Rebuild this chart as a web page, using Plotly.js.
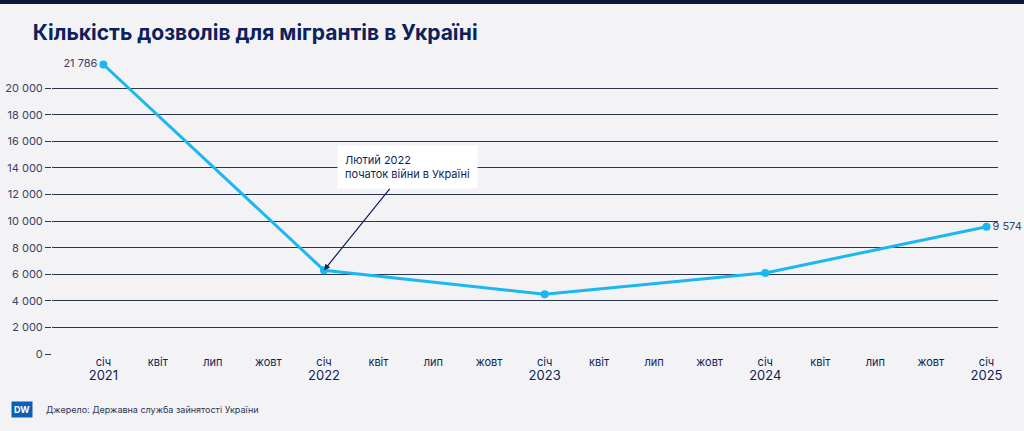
<!DOCTYPE html>
<html>
<head>
<meta charset="utf-8">
<script src="https://cdn.plot.ly/plotly-3.0.1.min.js"></script>
<style>
  body { margin: 0; background: #f3f2f4; }
  #topbar { height: 4px; background: #0b1538; }
  #chart { width: 1024px; height: 427px; }
</style>
</head>
<body>
<div id="topbar"></div>
<div id="chart"></div>
<script>
const dates = ["2021-01-01", "2022-01-01", "2023-01-01", "2024-01-01", "2025-01-01"];
const permits = [21786, 6300, 4500, 6100, 9574];
const pointLabels = ["21 786", "", "", "", "9 574"];

const months = ["січ", "квіт", "лип", "жовт"];
const monthNums = ["01", "04", "07", "10"];
let tickVals = [];
let tickText = [];
for (let y = 2021; y <= 2025; y++) {
    for (let m = 0; m < 4; m++) {
        if (y === 2025 && m > 0) break;
        tickVals.push(y + "-" + monthNums[m] + "-01");
        let label = months[m];
        if (m === 0) label += "<br><span style='font-size:13px'>" + y + "</span>";
        tickText.push(label);
    }
}

const navy = '#0d1f5c';

let trace = {
    x: dates,
    y: permits,
    text: pointLabels,
    mode: "lines+markers+text",
    textposition: ["middle left", "middle left", "middle left", "middle left", "middle right"],
    textfont: { size: 11, color: '#3a4466' },
    cliponaxis: false,
    line: { color: '#1ab8f0', width: 3 },
    marker: { color: '#1ab8f0', size: 8 },
    hoverinfo: "x+y",
    type: "scatter"
};

let layout = {
    width: 1024,
    height: 427,
    paper_bgcolor: '#f3f2f4',
    plot_bgcolor: '#f3f2f4',
    font: { family: 'Inter, "Noto Sans", sans-serif', color: navy },
    margin: { l: 52, r: 26, t: 49, b: 77 },
    showlegend: false,
    title: {
        text: '<b>Кількість дозволів для мігрантів в Україні</b>',
        x: 0.032, xanchor: 'left', y: 0.95,
        font: { size: 21, color: navy }
    },
    xaxis: {
        type: 'date',
        range: ['2020-10-08', '2025-01-20'],
        tickvals: tickVals,
        ticktext: tickText,
        tickfont: { size: 11, color: navy },
        showgrid: false,
        zeroline: false,
        ticks: ''
    },
    yaxis: {
        range: [0, 22650],
        tickvals: [0, 2000, 4000, 6000, 8000, 10000, 12000, 14000, 16000, 18000, 20000],
        ticktext: ["0", "2 000", "4 000", "6 000", "8 000", "10 000", "12 000", "14 000", "16 000", "18 000", "20 000"],
        tickfont: { size: 11, color: '#3a4466' },
        gridcolor: '#2c3550',
        gridwidth: 1,
        zeroline: false,
        ticks: 'outside',
        ticklen: 6,
        tickcolor: '#2c3550'
    },
    annotations: [{
        x: '2022-01-01', y: 6300, xref: 'x', yref: 'y',
        text: 'Лютий 2022<br>початок війни в Україні',
        align: 'left',
        showarrow: true, arrowhead: 2, arrowsize: 1, arrowwidth: 1.2, arrowcolor: navy,
        ax: 83, ay: -103, xanchor: 'center',
        bgcolor: '#ffffff', borderpad: 7,
        font: { size: 11, color: navy }
    }, {
        xref: 'paper', yref: 'paper', x: -0.043, y: -0.185, xanchor: 'left', yanchor: 'middle',
        text: '<b>DW</b>', showarrow: false,
        bgcolor: '#0c5fb5', borderpad: 2,
        font: { size: 9, color: '#ffffff' }
    }, {
        xref: 'paper', yref: 'paper', x: -0.008, y: -0.185, xanchor: 'left', yanchor: 'middle',
        text: 'Джерело: Державна служба зайнятості України', showarrow: false,
        font: { size: 9, color: '#2c3550' }
    }]
};

Plotly.newPlot('chart', [trace], layout, { displayModeBar: false, staticPlot: true });
</script>
</body>
</html>
